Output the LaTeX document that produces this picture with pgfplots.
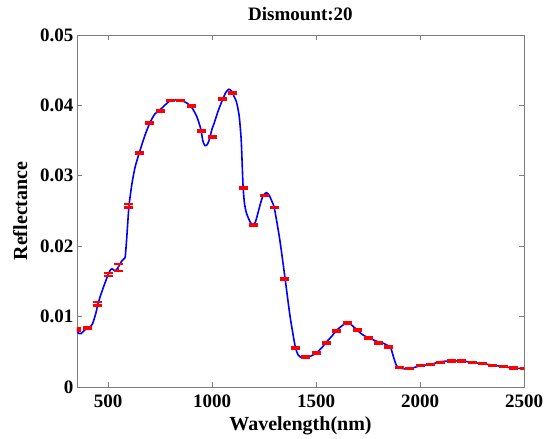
\documentclass[border=0pt]{standalone}
\usepackage{pgfplots}
\pgfplotsset{compat=1.18}
\usepackage{pgfplotstable}
\usepackage{fontspec}
\setmainfont{Liberation Serif}
\definecolor{axgray}{RGB}{125,125,125}
\pgfplotstableread{
x y
350 0.0079
360 0.0076
370 0.0076
380 0.0079
400 0.0084
412 0.0085
425 0.0090
440 0.0104
450 0.0117
460 0.0127
475 0.0140
490 0.0152
500 0.0160
510 0.0166
518 0.0168
528 0.0166
536 0.0165
550 0.0171
565 0.0179
575 0.0182
582 0.0185
590 0.0215
600 0.0257
615 0.0290
630 0.0313
650 0.0333
675 0.0356
700 0.0375
725 0.0388
750 0.0394
775 0.0401
800 0.0407
825 0.0408
850 0.0407
875 0.0404
900 0.0398
925 0.0385
945 0.0367
955 0.0350
965 0.0343
975 0.0344
985 0.0350
1000 0.0367
1010 0.0375
1030 0.0393
1050 0.0408
1065 0.0418
1080 0.0423
1095 0.0420
1105 0.0413
1117 0.0405
1130 0.0385
1140 0.0350
1148 0.0290
1155 0.0262
1165 0.0247
1182 0.0235
1197 0.0229
1210 0.0236
1230 0.0258
1245 0.0272
1262 0.0276
1275 0.0272
1290 0.0262
1300 0.0253
1325 0.0210
1350 0.0156
1375 0.0100
1400 0.0057
1415 0.0045
1430 0.0042
1450 0.0042
1475 0.0044
1500 0.0048
1525 0.0055
1550 0.0064
1575 0.0072
1600 0.0081
1625 0.0087
1650 0.0092
1675 0.0087
1700 0.0080
1725 0.0074
1750 0.0070
1775 0.0067
1800 0.0064
1825 0.0062
1850 0.0058
1860 0.0055
1875 0.0040
1890 0.0029
1920 0.0026
1950 0.0026
1975 0.0028
2000 0.0030
2050 0.0032
2100 0.0036
2150 0.0037
2200 0.0037
2250 0.0035
2300 0.0033
2350 0.0031
2400 0.0029
2450 0.0027
2500 0.0026
}\curve
\pgfplotstableread{
x y e
350 0.00815 0.00015
400 0.0084 0.0001
450 0.01185 0.00025
500 0.0160 0.0002
550 0.0170 0.0005
600 0.02575 0.00025
650 0.0333 0.0001
700 0.03745 0.0001
750 0.03925 0.0001
800 0.0407 0.0001
850 0.0407 0.0001
900 0.03995 0.0001
950 0.0364 0.0001
1000 0.03555 0.0001
1050 0.04095 0.0001
1100 0.0418 0.0001
1150 0.0283 0.0001
1200 0.0230 0.00015
1250 0.0272 0.0001
1300 0.0255 0.0001
1350 0.0154 0.0001
1400 0.0056 0.0001
1450 0.0042 0.0001
1500 0.0048 0.0001
1550 0.0063 0.0001
1600 0.0080 0.0001
1650 0.0091 0.0001
1700 0.0081 0.0001
1750 0.0070 0.0001
1800 0.0063 0.0001
1850 0.0057 0.0001
1900 0.0028 0.00005
1950 0.0026 0.00005
2000 0.0030 0.00005
2050 0.0032 0.00005
2100 0.0035 0.00005
2150 0.0037 0.00005
2200 0.0037 0.00005
2250 0.0035 0.00005
2300 0.0033 0.00005
2350 0.0031 0.00005
2400 0.0029 0.00005
2450 0.0027 0.00005
2500 0.0026 0.00005
}\bars
\begin{document}
\begin{tikzpicture}
\begin{axis}[
  scale only axis,
  width=447pt, height=352pt,
  xmin=350, xmax=2500, ymin=0, ymax=0.05,
  xtick={500,1000,1500,2000,2500},
  ytick={0,0.01,0.02,0.03,0.04,0.05},
  yticklabels={0,0.01,0.02,0.03,0.04,0.05},
  scaled y ticks=false,
  /pgf/number format/assume math mode=true,
  /pgf/number format/1000 sep={},
  tick align=inside,
  tick pos=both,
  major tick length=5pt,
  axis line style={axgray, line width=0.8pt},
  every tick/.style={axgray, line width=0.8pt},
  ticklabel style={font=\bfseries\fontsize{19}{22}\selectfont, black},
  xlabel={Wavelength(nm)},
  ylabel={Reflectance},
  label style={font=\bfseries\fontsize{20}{22}\selectfont},
  title={Dismount:20},
  title style={font=\bfseries\fontsize{19}{21}\selectfont, yshift=5pt},
  xlabel style={yshift=-2pt},
  ylabel style={yshift=6pt},
  xticklabel style={yshift=-4pt},
]
\addplot[blue, line width=1.6pt, smooth, tension=0.4] table[x=x,y=y] {\curve};
\addplot[draw=none, mark=none,
  error bars/.cd, y dir=both, y explicit,
  error bar style={red, line width=1.2pt},
  error mark options={red, line width=2.5pt, mark size=4.5pt, rotate=90}]
  table[x=x,y=y,y error=e] {\bars};
\end{axis}
\pgfresetboundingbox
\path (-77pt,-52pt) rectangle (478pt,387pt);
\end{tikzpicture}
\end{document}
